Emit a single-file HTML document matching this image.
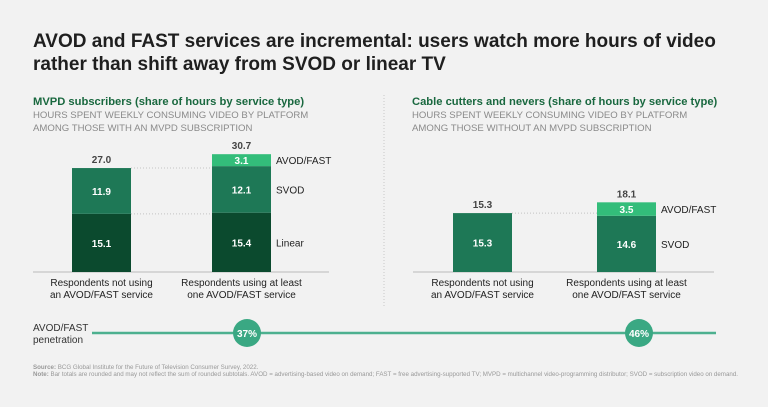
<!DOCTYPE html>
<html><head><meta charset="utf-8"><style>
html,body{margin:0;padding:0;background:#f2f2f2;}
body{width:768px;height:402px;overflow:hidden;font-family:"Liberation Sans",sans-serif;}
svg text{font-family:"Liberation Sans",sans-serif;}
</style></head><body>
<svg id="c" width="768" height="402" viewBox="0 0 768 402">
<rect width="768" height="402" fill="#f2f2f2"/>
<text x="33" y="47" font-size="19" font-weight="bold" fill="#1f1f1f">AVOD and FAST services are incremental: users watch more hours of video</text>
<text x="33" y="70" font-size="19" font-weight="bold" fill="#1f1f1f">rather than shift away from SVOD or linear TV</text>
<line x1="384" y1="95" x2="384" y2="308" stroke="#c8c8c8" stroke-dasharray="1,2"/>
<text x="33" y="105" font-size="11.2" font-weight="bold" fill="#19683f">MVPD subscribers (share of hours by service type)</text>
<text x="33" y="118" font-size="9.6" fill="#8a8a8a">HOURS SPENT WEEKLY CONSUMING VIDEO BY PLATFORM</text>
<text x="33" y="131" font-size="9.6" fill="#8a8a8a">AMONG THOSE WITH AN MVPD SUBSCRIPTION</text>
<text x="412" y="105" font-size="11.2" font-weight="bold" fill="#19683f">Cable cutters and nevers (share of hours by service type)</text>
<text x="412" y="118" font-size="9.6" fill="#8a8a8a">HOURS SPENT WEEKLY CONSUMING VIDEO BY PLATFORM</text>
<text x="412" y="131" font-size="9.6" fill="#8a8a8a">AMONG THOSE WITHOUT AN MVPD SUBSCRIPTION</text>
<g id="bars"></g>
<text x="33" y="331" font-size="10" fill="#333">AVOD/FAST</text>
<text x="33" y="343" font-size="10" fill="#333">penetration</text>
<line x1="92" y1="333" x2="716" y2="333" stroke="#4db08f" stroke-width="2.5"/>
<g id="pen"></g>
<text x="33" y="369" font-size="6.2" fill="#999"><tspan font-weight="bold">Source:</tspan> BCG Global Institute for the Future of Television Consumer Survey, 2022.</text>
<text x="33" y="376" font-size="6.2" fill="#999" textLength="705" lengthAdjust="spacingAndGlyphs"><tspan font-weight="bold">Note:</tspan> Bar totals are rounded and may not reflect the sum of rounded subtotals. AVOD = advertising-based video on demand; FAST = free advertising-supported TV; MVPD = multichannel video-programming distributor; SVOD = subscription video on demand.</text>
</svg>
<script>
const categories = ["Respondents not using|an AVOD/FAST service","Respondents using at least|one AVOD/FAST service"];
const leftLinear = [15.1, 15.4];
const leftSvod = [11.9, 12.1];
const leftAvod = [0, 3.1];
const leftTotals = ["27.0", "30.7"];
const rightSvod = [15.3, 14.6];
const rightAvod = [0, 3.5];
const rightTotals = ["15.3", "18.1"];
const penetration = ["37%", "46%"];

const NS = "http://www.w3.org/2000/svg";
const g = document.getElementById("bars");
const base = 272, scale = 3.85;
const y = v => base - v*scale;
const colors = ["#0b4a2e","#1e7856","#33bd7a"];
function mk(tag, attrs, parent){const e=document.createElementNS(NS,tag);for(const k in attrs)e.setAttribute(k,attrs[k]);(parent||g).appendChild(e);return e;}

function panel(series, totals, barX, axisX1, axisX2, labelX, prefix){
  const ax = mk("line",{x1:axisX1,y1:base,x2:axisX2,y2:base,stroke:"#bbb","stroke-width":1});
  
  
  for(let i=0;i<2;i++){
    let cum=0; const x=barX[i];
    series.forEach((s)=>{
      const v=s.vals[i]; if(!v) return;
      const r=mk("rect",{x:x,y:y(cum+v),width:59,height:v*scale,fill:colors[s.c]});
      
      
      const t=mk("text",{x:x+29.5,y:y(cum+v/2)+4,"font-size":10,"font-weight":"bold",fill:"#fff","text-anchor":"middle"});
      t.textContent=v.toFixed(1);
      
      
      if(i===1){
        const l=mk("text",{x:labelX,y:y(cum+v/2)+4,"font-size":10,fill:"#222"});
        l.textContent=s.name;
        
        
      }
      cum+=v;
    });
    const tt=mk("text",{x:x+29.5,y:y(cum)-5,"font-size":10,"font-weight":"bold",fill:"#444","text-anchor":"middle"});
    tt.textContent=totals[i];
    
    
    categories[i].split("|").forEach((p,pi)=>{
      const c=mk("text",{x:x+29.5,y:base+14+pi*12,"font-size":10,fill:"#222","text-anchor":"middle"});
      c.textContent=p;
      
      
    });
  }
  let cum=0;
  series.slice(0,-1).forEach(s=>{cum+=s.vals[0];
    if(s.vals[0]){const d=mk("line",{x1:barX[0]+59,y1:y(cum),x2:barX[1],y2:y(cum),stroke:"#c4c4c4","stroke-dasharray":"1,2"});
    
    }
  });
}
panel([{name:"Linear",vals:leftLinear,c:0},{name:"SVOD",vals:leftSvod,c:1},{name:"AVOD/FAST",vals:leftAvod,c:2}],leftTotals,[72,212],33,329,276,"left");
panel([{name:"SVOD",vals:rightSvod,c:1},{name:"AVOD/FAST",vals:rightAvod,c:2}],rightTotals,[453,597],413,714,661,"right");

const pg=document.getElementById("pen");
const px=[247,639];
penetration.forEach((p,i)=>{
  const c=mk("circle",{cx:px[i],cy:333,r:14,fill:"#3aa883"},pg);
  
  
  const t=mk("text",{x:px[i],y:337,"font-size":10,"font-weight":"bold",fill:"#fff","text-anchor":"middle"},pg);
  t.textContent=p;
  
  
});
</script>
</body></html>
